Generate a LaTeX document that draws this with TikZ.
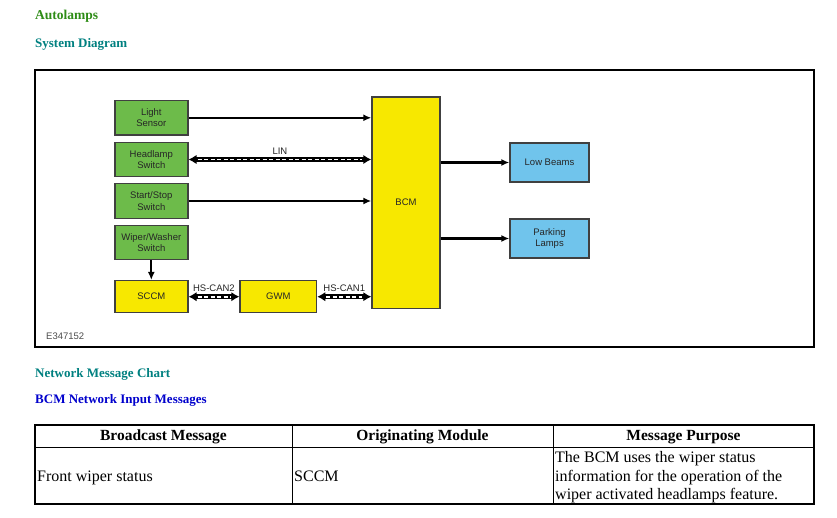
\documentclass[tikz,border=0pt]{standalone}
\usepackage{fontspec}
\setmainfont{Liberation Serif}
\setsansfont{Liberation Sans}
\usetikzlibrary{arrows.meta}
\definecolor{headgreen}{RGB}{46,140,22}
\definecolor{headteal}{RGB}{0,128,128}
\definecolor{headblue}{RGB}{0,0,204}
\definecolor{swgreen}{RGB}{109,187,74}
\definecolor{modyellow}{RGB}{247,232,0}
\definecolor{lampblue}{RGB}{112,196,236}
\definecolor{edgegray}{RGB}{64,64,64}

\begin{document}
\begin{tikzpicture}[x=1pt, y=-1pt,
    box/.style={draw=edgegray, line width=1.4pt, align=center, inner sep=0pt,
        font=\sffamily\fontsize{9.5}{11.5}\selectfont, text=black!85},
    swbox/.style={box, fill=swgreen, minimum width=73pt, minimum height=34.5pt},
    modbox/.style={box, fill=modyellow, minimum height=32pt},
    lampbox/.style={box, fill=lampblue, minimum width=79pt, minimum height=39pt},
    sig/.style={line width=2.1pt, -{Latex[length=8pt,width=7pt]}},
    bus/.style={line width=4.6pt, {Latex[length=8pt,width=9.5pt]}-{Latex[length=8pt,width=9.5pt]},
        postaction={draw=white, line width=1.8pt, dash pattern=on 4pt off 2.5pt,
            arrows=-, shorten <=9pt, shorten >=9pt}},
    buslabel/.style={font=\sffamily\fontsize{9.5}{11}\selectfont, text=black!85, inner sep=1pt},
    heading/.style={font=\bfseries\fontsize{13}{15}\selectfont, anchor=west, inner sep=0pt},
    cell/.style={font=\fontsize{16}{18.5}\selectfont, inner sep=0pt}]
    \useasboundingbox (0,0) rectangle (837,518);

    % Page headings
    \node[heading, text=headgreen, font=\bfseries\fontsize{13.5}{15}\selectfont] (title) at (35,16.5) {Autolamps};
    \node[heading, text=headteal] (sysdiag) at (35,44.5) {System Diagram};

    % Diagram frame
    \draw[line width=2pt] (35,70) rectangle (814,347);
    \node[buslabel, anchor=west, text=black!70] (figno) at (45,336) {E347152};

    % Switches and sensor
    \node[swbox] (light) at (151.3,117.8) {Light\\Sensor};
    \node[swbox] (head) at (151.3,159.5) {Headlamp\\Switch};
    \node[swbox] (start) at (151.3,201) {Start/Stop\\Switch};
    \node[swbox] (wiper) at (151.3,242.5) {Wiper/Washer\\Switch};

    % Modules
    \node[modbox, minimum width=73pt] (sccm) at (151.3,296.7) {SCCM};
    \node[modbox, minimum width=76.5pt] (gwm) at (278.3,296.7) {GWM};
    \node[modbox, minimum width=68pt, minimum height=211pt] (bcm) at (406,202.7) {BCM};

    % Lamps
    \node[lampbox] (low) at (549.5,162.5) {Low Beams};
    \node[lampbox] (park) at (549.5,238.5) {Parking\\Lamps};

    % Inputs to the BCM
    \draw[sig] (light.east) -- (light.east -| bcm.west);
    \draw[bus] (head.east) -- (head.east -| bcm.west)
        node[buslabel, midway, above=1.5pt] (lin) {LIN};
    \draw[sig] (start.east) -- (start.east -| bcm.west);
    \draw[sig] (wiper.south) -- (sccm.north);

    % CAN buses
    \draw[bus] (sccm.east) -- (gwm.west)
        node[buslabel, midway, above=1.5pt] (can2) {HS-CAN2};
    \draw[bus] (gwm.east) -- (gwm.east -| bcm.west)
        node[buslabel, midway, above=1.5pt] (can1) {HS-CAN1};

    % Outputs
    \draw[sig] (bcm.east |- low.west) -- (low.west);
    \draw[sig] (bcm.east |- park.west) -- (park.west);

    % Message chart headings
    \node[heading, text=headteal] (netchart) at (35,374.5) {Network Message Chart};
    \node[heading, text=headblue] (inmsg) at (35,400.5) {BCM Network Input Messages};

    % Message table
    \draw[line width=2pt] (35,425) rectangle (814,504);
    \draw[line width=1pt] (35,447) -- (814,447);
    \draw[line width=1pt] (292,425) -- (292,504);
    \draw[line width=1pt] (553,425) -- (553,504);
    \node[cell, font=\bfseries\fontsize{15.5}{18.5}\selectfont] (hbroad) at (163.5,437) {Broadcast Message};
    \node[cell, font=\bfseries\fontsize{15.5}{18.5}\selectfont] (horig) at (422.5,437) {Originating Module};
    \node[cell, font=\bfseries\fontsize{15.5}{18.5}\selectfont] (hpurp) at (683.5,437) {Message Purpose};
    \node[cell, anchor=base west] (broad) at (37,481) {Front wiper status};
    \node[cell, anchor=base west] (orig) at (294,481) {SCCM};
    \node[cell, anchor=west, align=left] (purp) at (555,477.5)
        {The BCM uses the wiper status\\information for the operation of the\\wiper activated headlamps feature.};
\end{tikzpicture}
\end{document}
